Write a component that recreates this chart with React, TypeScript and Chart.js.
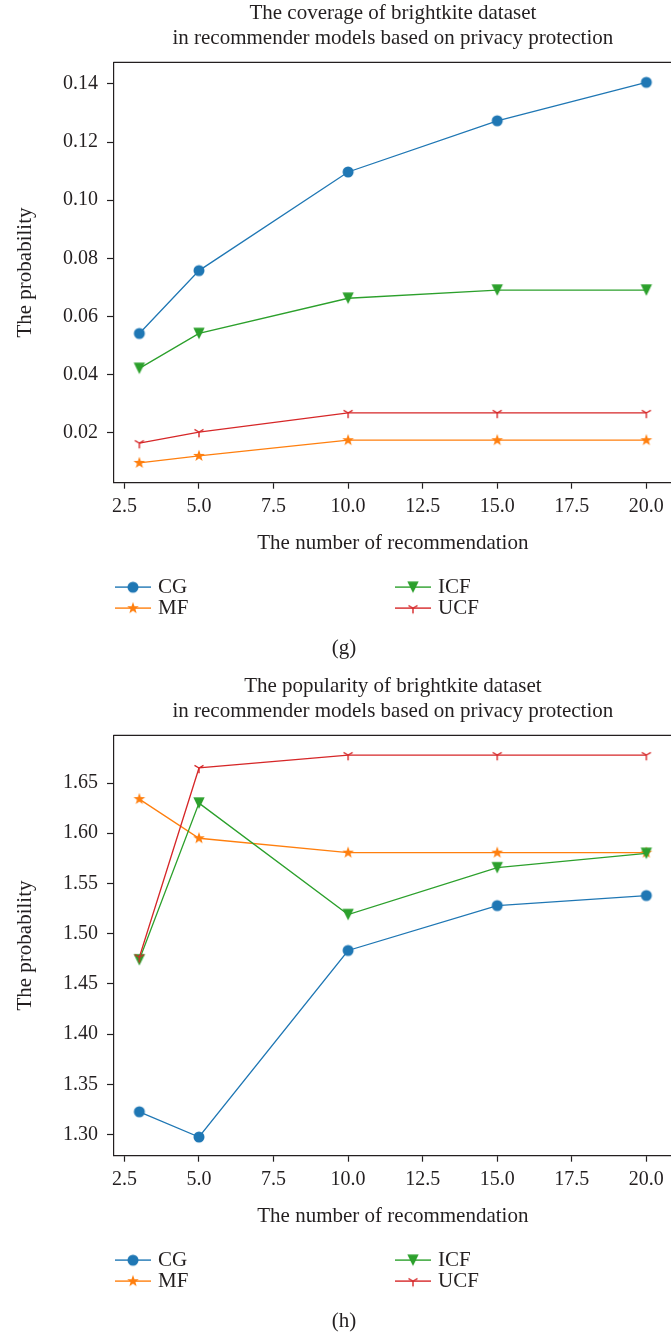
import React, { useEffect, useRef } from "react";
import { Chart, registerables } from "chart.js";

Chart.register(...registerables);

// ---------- data ----------
const xValues = [3, 5, 10, 15, 20];
const seriesNames = ["CG", "MF", "ICF", "UCF"];

const coverageCG = [0.0542, 0.0758, 0.1097, 0.1273, 0.1405];
const coverageMF = [0.0097, 0.0121, 0.0175, 0.0175, 0.0175];
const coverageICF = [0.0422, 0.0542, 0.0663, 0.0691, 0.0691];
const coverageUCF = [0.0165, 0.0203, 0.0269, 0.0269, 0.0269];

const popularityCG = [1.3227, 1.2976, 1.4833, 1.528, 1.538];
const popularityMF = [1.634, 1.595, 1.5807, 1.5807, 1.5807];
const popularityICF = [1.474, 1.63, 1.519, 1.5657, 1.58];
const popularityUCF = [1.4765, 1.665, 1.6778, 1.6778, 1.6778];

const xTicks = [2.5, 5, 7.5, 10, 12.5, 15, 17.5, 20];
const xTickLabels = ["2.5", "5.0", "7.5", "10.0", "12.5", "15.0", "17.5", "20.0"];

const coverageYTicks = [0.02, 0.04, 0.06, 0.08, 0.1, 0.12, 0.14];
const coverageYTickLabels = ["0.02", "0.04", "0.06", "0.08", "0.10", "0.12", "0.14"];

const popularityYTicks = [1.3, 1.35, 1.4, 1.45, 1.5, 1.55, 1.6, 1.65];
const popularityYTickLabels = ["1.30", "1.35", "1.40", "1.45", "1.50", "1.55", "1.60", "1.65"];

const coverageTitle = ["The coverage of brightkite dataset", "in recommender models based on privacy protection"];
const popularityTitle = ["The popularity of brightkite dataset", "in recommender models based on privacy protection"];
const xAxisTitle = "The number of recommendation";
const yAxisTitle = "The probability";

// ---------- styles ----------
const COLORS = ["#1f77b4", "#ff7f0e", "#2ca02c", "#d62728"];
const MARKERS = ["circle", "star", "triDown", "tri"];
const TEXT = "#231f20";
const AXIS = "#231f20";
const FAMILY = '"Liberation Serif", "Times New Roman", serif';

function makeMarker(kind: string, color: string): HTMLCanvasElement {
  const c = document.createElement("canvas");
  c.width = 20;
  c.height = 20;
  const g = c.getContext("2d")!;
  const cx = 10;
  const cy = 10;
  g.fillStyle = color;
  g.strokeStyle = color;
  if (kind === "circle") {
    g.beginPath();
    g.arc(cx, cy, 5.5, 0, Math.PI * 2);
    g.fill();
  } else if (kind === "triDown") {
    const s = 5.7;
    g.beginPath();
    g.moveTo(cx - s, cy - s);
    g.lineTo(cx + s, cy - s);
    g.lineTo(cx, cy + s);
    g.closePath();
    g.fill();
  } else if (kind === "star") {
    const R = 6.2;
    const r = R * 0.4;
    g.beginPath();
    for (let i = 0; i < 10; i++) {
      const a = -Math.PI / 2 + (i * Math.PI) / 5;
      const rad = i % 2 === 0 ? R : r;
      const px = cx + Math.cos(a) * rad;
      const py = cy + Math.sin(a) * rad;
      if (i === 0) g.moveTo(px, py);
      else g.lineTo(px, py);
    }
    g.closePath();
    g.fill();
  } else if (kind === "tri") {
    const s = 5.2;
    g.lineWidth = 1.4;
    g.beginPath();
    g.moveTo(cx, cy);
    g.lineTo(cx, cy + s);
    g.moveTo(cx, cy);
    g.lineTo(cx - 0.866 * s, cy - 0.5 * s);
    g.moveTo(cx, cy);
    g.lineTo(cx + 0.866 * s, cy - 0.5 * s);
    g.stroke();
  }
  return c;
}

const CANVAS_W = 678;
const CANVAS_H = 662;
const AREA_TOP = 62.3;
const AREA_BOTTOM = 482.7;
const Y_AXIS_W = 114;
const X_AXIS_H = 73;

type PanelProps = {
  top: number;
  title: string[];
  caption: string;
  seriesData: number[][];
  yMin: number;
  yMax: number;
  yTicks: number[];
  yTickLabels: string[];
};

function Panel({ top, title, caption, seriesData, yMin, yMax, yTicks, yTickLabels }: PanelProps) {
  const ref = useRef<HTMLCanvasElement>(null);

  useEffect(() => {
    const markers = MARKERS.map((m, i) => makeMarker(m, COLORS[i]));

    const decor = {
      id: "decor",
      afterDraw(chart: any) {
        const { ctx, chartArea } = chart;
        const { left, right, top: t, bottom } = chartArea;
        ctx.save();
        // top & right spines
        ctx.strokeStyle = AXIS;
        ctx.lineWidth = 1.2;
        ctx.beginPath();
        ctx.moveTo(left - 0.6, t);
        ctx.lineTo(right, t);
        ctx.lineTo(right, bottom);
        ctx.stroke();

        // title
        ctx.fillStyle = TEXT;
        ctx.font = `21px ${FAMILY}`;
        ctx.textAlign = "center";
        ctx.textBaseline = "middle";
        const cx = (left + right) / 2;
        ctx.fillText(title[0], cx, t - 49);
        ctx.fillText(title[1], cx, t - 24);

        // legend (2 columns: CG/MF left, ICF/UCF right)
        const cols = [left + 1, left + 281];
        const rows = [bottom + 104.5, bottom + 125.5];
        seriesNames.forEach((name, i) => {
          const col = cols[Math.floor(i / 2)];
          const row = rows[i % 2];
          ctx.strokeStyle = COLORS[i];
          ctx.globalAlpha = 0.8;
          ctx.lineWidth = 1.8;
          ctx.beginPath();
          ctx.moveTo(col, row);
          ctx.lineTo(col + 36, row);
          ctx.stroke();
          ctx.globalAlpha = 1;
          const mk = markers[i];
          ctx.drawImage(mk, col + 18 - mk.width / 2, row - mk.height / 2);
          ctx.fillStyle = TEXT;
          ctx.textAlign = "left";
          ctx.fillText(name, col + 43, row);
        });

        // caption
        ctx.textAlign = "center";
        ctx.fillText(caption, 344, bottom + 166);
        ctx.restore();
      },
    };

    const datasets = seriesNames.map((name, i) => ({
      label: name,
      data: xValues.map((x, j) => ({ x, y: seriesData[i][j] })),
      borderColor: COLORS[i],
      backgroundColor: COLORS[i],
      borderWidth: 1.3,
      pointStyle: markers[i],
      pointRadius: 5,
      pointHoverRadius: 5,
      tension: 0,
      order: seriesNames.length - i,
    }));

    const tickFont = { family: FAMILY, size: 20 };
    const titleFont = { family: FAMILY, size: 21 };

    const chart = new Chart(ref.current!, {
      type: "line",
      data: { datasets },
      plugins: [decor],
      options: {
        animation: false,
        responsive: false,
        devicePixelRatio: 1,
        events: [],
        layout: {
          padding: {
            top: AREA_TOP,
            bottom: CANVAS_H - AREA_BOTTOM - X_AXIS_H,
            left: 0,
            right: 0,
          },
        },
        plugins: {
          legend: { display: false },
          title: { display: false },
          tooltip: { enabled: false },
        },
        scales: {
          x: {
            type: "linear",
            min: 2.15,
            max: 20.85,
            afterBuildTicks: (scale: any) => {
              scale.ticks = xTicks.map((v) => ({ value: v }));
            },
            afterFit: (scale: any) => {
              scale.height = X_AXIS_H;
            },
            ticks: {
              font: tickFont,
              color: TEXT,
              padding: 6,
              maxRotation: 0,
              autoSkip: false,
              callback: (_v: any, idx: number) => xTickLabels[idx],
            },
            grid: {
              drawOnChartArea: false,
              drawTicks: true,
              tickLength: 6,
              tickColor: AXIS,
              tickWidth: 1.2,
            },
            border: { display: true, color: AXIS, width: 1.2 },
            title: {
              display: true,
              text: xAxisTitle,
              font: titleFont,
              color: TEXT,
              padding: { top: 0, bottom: 0 },
            },
          },
          y: {
            type: "linear",
            min: yMin,
            max: yMax,
            afterBuildTicks: (scale: any) => {
              scale.ticks = yTicks.map((v) => ({ value: v }));
            },
            afterFit: (scale: any) => {
              scale.width = Y_AXIS_W;
            },
            ticks: {
              font: tickFont,
              color: TEXT,
              padding: 9,
              autoSkip: false,
              callback: (_v: any, idx: number) => yTickLabels[idx],
            },
            grid: {
              drawOnChartArea: false,
              drawTicks: true,
              tickLength: 7,
              tickColor: AXIS,
              tickWidth: 1.2,
            },
            border: { display: true, color: AXIS, width: 1.2 },
            title: {
              display: true,
              text: yAxisTitle,
              font: titleFont,
              color: TEXT,
              padding: { top: 12.6, bottom: 0 },
            },
          },
        },
      } as any,
    });
    return () => chart.destroy();
  }, []);

  return (
    <canvas
      ref={ref}
      width={CANVAS_W}
      height={CANVAS_H}
      style={{ position: "absolute", left: 0, top, display: "block" }}
    />
  );
}

export default function App() {
  return (
    <div
      style={{
        position: "absolute",
        left: 0,
        top: 0,
        width: 671,
        height: 1335,
        overflow: "hidden",
        background: "#ffffff",
      }}
    >
      <Panel
        top={0}
        title={coverageTitle}
        caption="(g)"
        seriesData={[coverageCG, coverageMF, coverageICF, coverageUCF]}
        yMin={0.0029}
        yMax={0.1474}
        yTicks={coverageYTicks}
        yTickLabels={coverageYTickLabels}
      />
      <Panel
        top={673}
        title={popularityTitle}
        caption="(h)"
        seriesData={[popularityCG, popularityMF, popularityICF, popularityUCF]}
        yMin={1.279}
        yMax={1.6975}
        yTicks={popularityYTicks}
        yTickLabels={popularityYTickLabels}
      />
    </div>
  );
}
